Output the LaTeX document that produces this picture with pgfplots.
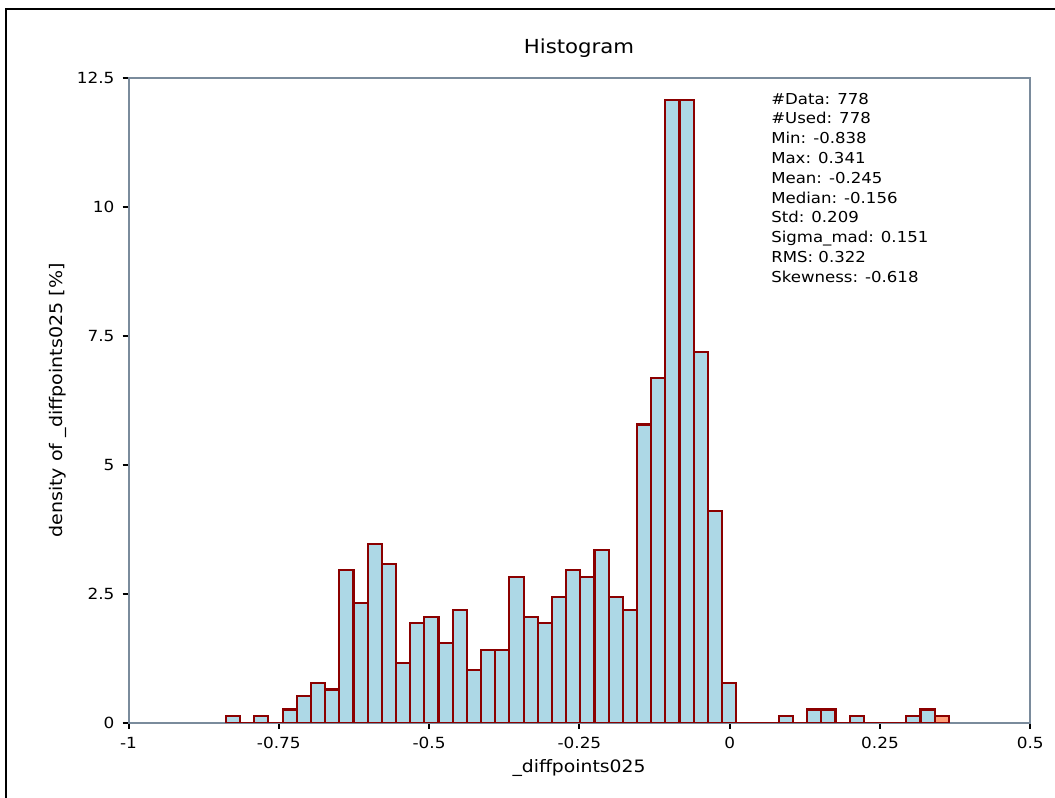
\documentclass[border=0pt]{standalone}
\usepackage{fontspec}
\setmainfont[FakeStretch=1.1]{DejaVu Sans}
\usepackage{pgfplots}
\usepackage{pgfplotstable}
\pgfplotsset{compat=1.18}
\definecolor{barfill}{HTML}{ADD8E6}
\definecolor{barline}{HTML}{8B0000}
\definecolor{axisgray}{HTML}{7A8B9C}
\definecolor{maxfill}{HTML}{FFA07A}

% bin left edge, density [%] (count/778*100)
\pgfplotstableread{
x y
-0.838 0.1285
-0.81442 0
-0.79084 0.1285
-0.76726 0
-0.74368 0.2571
-0.7201 0.5141
-0.69652 0.7712
-0.67294 0.6427
-0.64936 2.9563
-0.62578 2.3136
-0.6022 3.4704
-0.57862 3.0848
-0.55504 1.1568
-0.53146 1.9280
-0.50788 2.0566
-0.4843 1.5424
-0.46072 2.1851
-0.43714 1.0283
-0.41356 1.4139
-0.38998 1.4139
-0.3664 2.8278
-0.34282 2.0566
-0.31924 1.9280
-0.29566 2.4422
-0.27208 2.9563
-0.2485 2.8278
-0.22492 3.3419
-0.20134 2.4422
-0.17776 2.1851
-0.15418 5.7841
-0.1306 6.6838
-0.10702 12.0823
-0.08344 12.0823
-0.05986 7.1979
-0.03628 4.1131
-0.0127 0.7712
0.01088 0
0.03446 0
0.05804 0
0.08162 0.1285
0.1052 0
0.12878 0.2571
0.15236 0.2571
0.17594 0
0.19952 0.1285
0.2231 0
0.24668 0
0.27026 0
0.29384 0.1285
0.31742 0.2571
0.341 0
}\histdata

\pgfplotstableread{
x y
0.341 0.1285
0.36458 0.1285
}\maxdata

\begin{document}
\begin{tikzpicture}
\useasboundingbox (0,0) rectangle (791.25pt,598.5pt);
\draw[black, line width=1.5pt] (4.5pt,0) -- (4.5pt,591.75pt) -- (792pt,591.75pt);
\begin{axis}[
  at={(96.375pt,56.475pt)}, anchor=south west,
  scale only axis, width=676.35pt, height=483.3pt,
  xmin=-1, xmax=0.5, ymin=0, ymax=12.5,
  axis line style={axisgray, line width=1.5pt},
  xtick={-1,-0.75,-0.5,-0.25,0,0.25,0.5},
  xticklabels={-1,-0.75,-0.5,-0.25,0,0.25,0.5},
  ytick={0,2.5,5,7.5,10,12.5},
  yticklabels={0,2.5,5,7.5,10,12.5},
  tick align=outside, xtick pos=left, ytick pos=left,
  major tick length=4.5pt,
  tick style={black, line width=1.5pt},
  tick label style={font=\fontsize{11.5}{13}\selectfont},
  xticklabel style={yshift=-3pt},
  yticklabel style={xshift=-2.5pt},
]
\addplot[ybar interval, fill=barfill, draw=barline, line width=1.6pt] table[x=x,y=y] {\histdata};
\addplot[ybar interval, fill=maxfill, draw=barline, line width=1.6pt] table[x=x,y=y] {\maxdata};
\end{axis}
\node[font=\fontsize{14.5}{16}\selectfont] at (434.25pt,562pt) {Histogram};
\node[font=\fontsize{12.8}{14}\selectfont] at (434.25pt,22.5pt) {\_diffpoints025};
\node[font=\fontsize{13}{14}\selectfont, rotate=90] at (43.7pt,298.1pt) {density of \_diffpoints025 [\%]};
\node[font=\fontsize{11.3}{14.85}\selectfont, anchor=north west, align=left, inner sep=0pt] at (578.25pt,529pt) {%
\#Data: 778\\
\#Used: 778\\
Min: -0.838\\
Max: 0.341\\
Mean: -0.245\\
Median: -0.156\\
Std: 0.209\\
Sigma\_mad: 0.151\\
RMS: 0.322\\
Skewness: -0.618};
\end{tikzpicture}
\end{document}
